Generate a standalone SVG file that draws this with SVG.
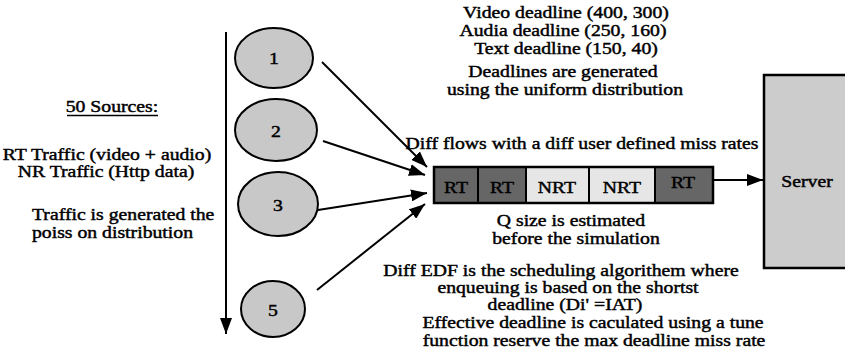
<svg xmlns="http://www.w3.org/2000/svg" width="845" height="364" viewBox="0 0 845 364">
  <style>
    .t { font-family: "Liberation Serif", "Times New Roman", serif; font-size: 17px; fill: #000; stroke: #000; stroke-width: 0.45px; }
    .m { text-anchor: middle; }
    .s { text-anchor: start; }
    .node { fill: #c8c8c8; stroke: #000; stroke-width: 2; }
    .wire { stroke: #000; stroke-width: 2; fill: none; }
    .dark { fill: #666666; stroke: #000; stroke-width: 2; }
    .light { fill: #e6e6e6; stroke: #000; stroke-width: 2; }
  </style>
  <defs>
    <marker id="head" viewBox="0 0 16 12" refX="16" refY="6" markerWidth="16" markerHeight="12" markerUnits="userSpaceOnUse" orient="auto">
      <path d="M0,0 L16,6 L0,12 Z" fill="#000"/>
    </marker>
  </defs>

  <rect width="845" height="364" fill="#fff"/>

  <!-- left-hand description -->
  <g id="sources-label">
    <text class="t m" transform="translate(112,112) scale(1.16,1)">50 Sources:</text>
    <line x1="67" y1="115.5" x2="158" y2="115.5" stroke="#000" stroke-width="1.5"/>
    <text class="t m" transform="translate(107,160) scale(1.16,1)">RT Traffic (video + audio)</text>
    <text class="t m" transform="translate(106,177) scale(1.16,1)">NR Traffic (Http data)</text>
    <text class="t s" transform="translate(32,220) scale(1.16,1)">Traffic is generated the</text>
    <text class="t s" transform="translate(32,238) scale(1.16,1)">poiss on distribution</text>
  </g>

  <!-- source nodes -->
  <g id="source-1">
    <ellipse class="node" cx="274" cy="58" rx="39" ry="30"/>
    <text class="t m" transform="translate(274,64) scale(1.16,1)">1</text>
  </g>
  <g id="source-2">
    <ellipse class="node" cx="276" cy="130" rx="41" ry="31"/>
    <text class="t m" transform="translate(276,137) scale(1.16,1)">2</text>
  </g>
  <g id="source-3">
    <ellipse class="node" cx="278" cy="204" rx="40" ry="32"/>
    <text class="t m" transform="translate(278,211) scale(1.16,1)">3</text>
  </g>
  <g id="source-5">
    <ellipse class="node" cx="273" cy="309" rx="32" ry="28"/>
    <text class="t m" transform="translate(273,316) scale(1.16,1)">5</text>
  </g>

  <!-- queue -->
  <g id="queue">
    <rect class="dark" x="434" y="167" width="44" height="36"/>
    <rect class="dark" x="478" y="167" width="48" height="36"/>
    <rect class="light" x="526" y="167" width="63" height="36"/>
    <rect class="light" x="589" y="167" width="66" height="36"/>
    <rect class="dark" x="655" y="167" width="58" height="36" fill="#6a6a6a"/>
    <rect x="434" y="167" width="279" height="36" fill="none" stroke="#000" stroke-width="2.5"/>
    <text class="t m" transform="translate(456,193) scale(1.16,1)">RT</text>
    <text class="t m" transform="translate(502,193) scale(1.16,1)">RT</text>
    <text class="t m" transform="translate(557,193) scale(1.16,1)">NRT</text>
    <text class="t m" transform="translate(622,193) scale(1.16,1)">NRT</text>
    <text class="t m" transform="translate(683,188) scale(1.16,1)">RT</text>
  </g>

  <!-- server -->
  <g id="server">
    <rect x="764" y="75" width="84" height="193" fill="#cccccc" stroke="#000" stroke-width="2.5"/>
    <text class="t m" transform="translate(807,187) scale(1.16,1)">Server</text>
  </g>

  <!-- connectors -->
  <g id="connectors">
    <line class="wire" x1="226" y1="32" x2="226" y2="334" marker-end="url(#head)"/>
    <line class="wire" x1="322" y1="62" x2="427" y2="167" marker-end="url(#head)"/>
    <line class="wire" x1="323" y1="141" x2="425" y2="175" marker-end="url(#head)"/>
    <line class="wire" x1="318" y1="210" x2="427" y2="193" marker-end="url(#head)"/>
    <line class="wire" x1="317" y1="290" x2="425" y2="204" marker-end="url(#head)"/>
    <line class="wire" x1="713" y1="180" x2="763" y2="180" marker-end="url(#head)"/>
  </g>

  <!-- annotations -->
  <g id="deadline-notes">
    <text class="t m" transform="translate(566,18) scale(1.16,1)">Video deadline (400, 300)</text>
    <text class="t m" transform="translate(563,36) scale(1.16,1)">Audia deadline (250, 160)</text>
    <text class="t m" transform="translate(566,54) scale(1.16,1)">Text deadline (150, 40)</text>
    <text class="t m" transform="translate(563,77) scale(1.16,1)">Deadlines are generated</text>
    <text class="t m" transform="translate(565,95) scale(1.16,1)">using the uniform distribution</text>
    <text class="t m" transform="translate(582,149) scale(1.16,1)">Diff flows with a diff user defined miss rates</text>
  </g>
  <g id="queue-notes">
    <text class="t m" transform="translate(571,226) scale(1.16,1)">Q size is estimated</text>
    <text class="t m" transform="translate(576,244) scale(1.16,1)">before the simulation</text>
    <text class="t m" transform="translate(561,276) scale(1.16,1)">Diff EDF is the scheduling algorithem where</text>
    <text class="t m" transform="translate(568,293) scale(1.16,1)">enqueuing is based on the shortst</text>
    <text class="t m" transform="translate(565,310) scale(1.16,1)">deadline (Di' =IAT)</text>
    <text class="t m" transform="translate(593,328) scale(1.16,1)">Effective deadline is caculated using a tune</text>
    <text class="t m" transform="translate(594,346) scale(1.16,1)">function reserve the max deadline miss rate</text>
  </g>
</svg>
